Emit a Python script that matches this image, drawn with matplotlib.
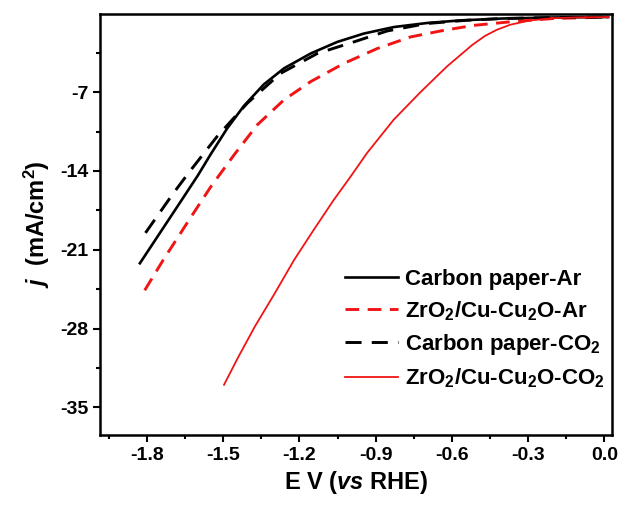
import numpy as np
import matplotlib.pyplot as plt

plt.rcParams['font.family'] = ['Liberation Sans', 'DejaVu Sans']
plt.rcParams['font.weight'] = 'bold'
plt.rcParams['axes.unicode_minus'] = False
plt.rcParams['mathtext.fontset'] = 'custom'
plt.rcParams['mathtext.rm'] = 'Liberation Sans:bold'
plt.rcParams['mathtext.it'] = 'Liberation Sans:italic:bold'
plt.rcParams['mathtext.bf'] = 'Liberation Sans:bold'

# Carbon paper - Ar (black solid)
cp_ar_e = [-1.828, -1.749, -1.67, -1.6, -1.549, -1.484, -1.418, -1.34, -1.261,
           -1.156, -1.051, -0.947, -0.829, -0.698, -0.567, -0.4, -0.2, 0.0, 0.015]
cp_ar_j = [-22.2, -19.5, -16.8, -14.4, -12.5, -10.2, -8.2, -6.3, -4.88,
           -3.56, -2.53, -1.79, -1.21, -0.85, -0.62, -0.45, -0.36, -0.32, -0.32]

# ZrO2/Cu-Cu2O - Ar (red dashed)
zr_ar_e = [-1.809, -1.736, -1.633, -1.549, -1.455, -1.366, -1.261, -1.156, -1.025,
           -0.894, -0.763, -0.632, -0.514, -0.35, -0.2, 0.015]
zr_ar_j = [-24.6, -21.9, -18.3, -15.4, -12.5, -9.9, -7.68, -6.06, -4.44,
           -3.12, -2.09, -1.5, -1.06, -0.7, -0.45, -0.32]

# Carbon paper - CO2 (black dashed)
cp_co2_e = [-1.806, -1.697, -1.634, -1.523, -1.405, -1.274, -1.13, -0.986, -0.855,
            -0.7, -0.55, -0.4, -0.2, 0.015]
cp_co2_j = [-19.5, -16.0, -14.1, -10.9, -7.97, -5.32, -3.56, -2.53, -1.56,
            -0.9, -0.62, -0.45, -0.36, -0.32]

# ZrO2/Cu-Cu2O - CO2 (red solid)
zr_co2_e = [-1.497, -1.44, -1.375, -1.298, -1.221, -1.143, -1.066, -1.002, -0.934,
            -0.829, -0.724, -0.619, -0.52, -0.47, -0.423, -0.37, -0.292, -0.2,
            -0.1, 0.015]
zr_co2_j = [-33.0, -30.5, -27.8, -24.9, -21.9, -19.2, -16.6, -14.6, -12.4,
            -9.44, -7.0, -4.7, -2.8, -2.0, -1.45, -1.0, -0.62, -0.42,
            -0.35, -0.32]

red = '#f01414'

fig = plt.figure(figsize=(6.19, 5.07), dpi=100)
ax = fig.add_axes([100 / 619, 1 - 435 / 507, 512 / 619, 421 / 507])

ax.plot(cp_ar_e, cp_ar_j, color='black', lw=1.9, label='Carbon paper-Ar')
ax.plot(zr_ar_e, zr_ar_j, color=red, lw=2.1, dashes=(4.7, 2.9),
        label='ZrO$_2$/Cu-Cu$_2$O-Ar')
ax.plot(cp_co2_e, cp_co2_j, color='black', lw=2.1, dashes=(5.5, 3.5),
        label='Carbon paper-CO$_2$')
ax.plot(zr_co2_e, zr_co2_j, color=red, lw=1.3,
        label='ZrO$_2$/Cu-Cu$_2$O-CO$_2$')

ax.set_xlim(-1.985, 0.03)
ax.set_ylim(-37.46, -0.05)
ax.set_xticks([-1.8, -1.5, -1.2, -0.9, -0.6, -0.3, 0.0])
ax.set_xticks(np.arange(-1.95, 0.0, 0.3), minor=True)
ax.set_yticks([-7, -14, -21, -28, -35])
ax.set_yticks([-3.5, -10.5, -17.5, -24.5, -31.5], minor=True)
ax.tick_params(which='major', direction='out', length=5, width=1.5, labelsize=14)
ax.tick_params(which='minor', direction='out', length=3, width=1.5)
for s in ax.spines.values():
    s.set_linewidth(1.8)

ax.set_xlabel('E V ($\\it{vs}$ RHE)', fontsize=17, fontweight='bold', labelpad=4)
ax.set_ylabel('$j$  (mA/cm$^2$)', fontsize=17, fontweight='bold', labelpad=6)

ax.legend(loc='upper left', bbox_to_anchor=(0.478, 0.395), frameon=False,
          fontsize=16, handlelength=2.4, handletextpad=0.3, labelspacing=0.42,
          borderpad=0, borderaxespad=0)

fig.savefig('out.png', dpi=100)
